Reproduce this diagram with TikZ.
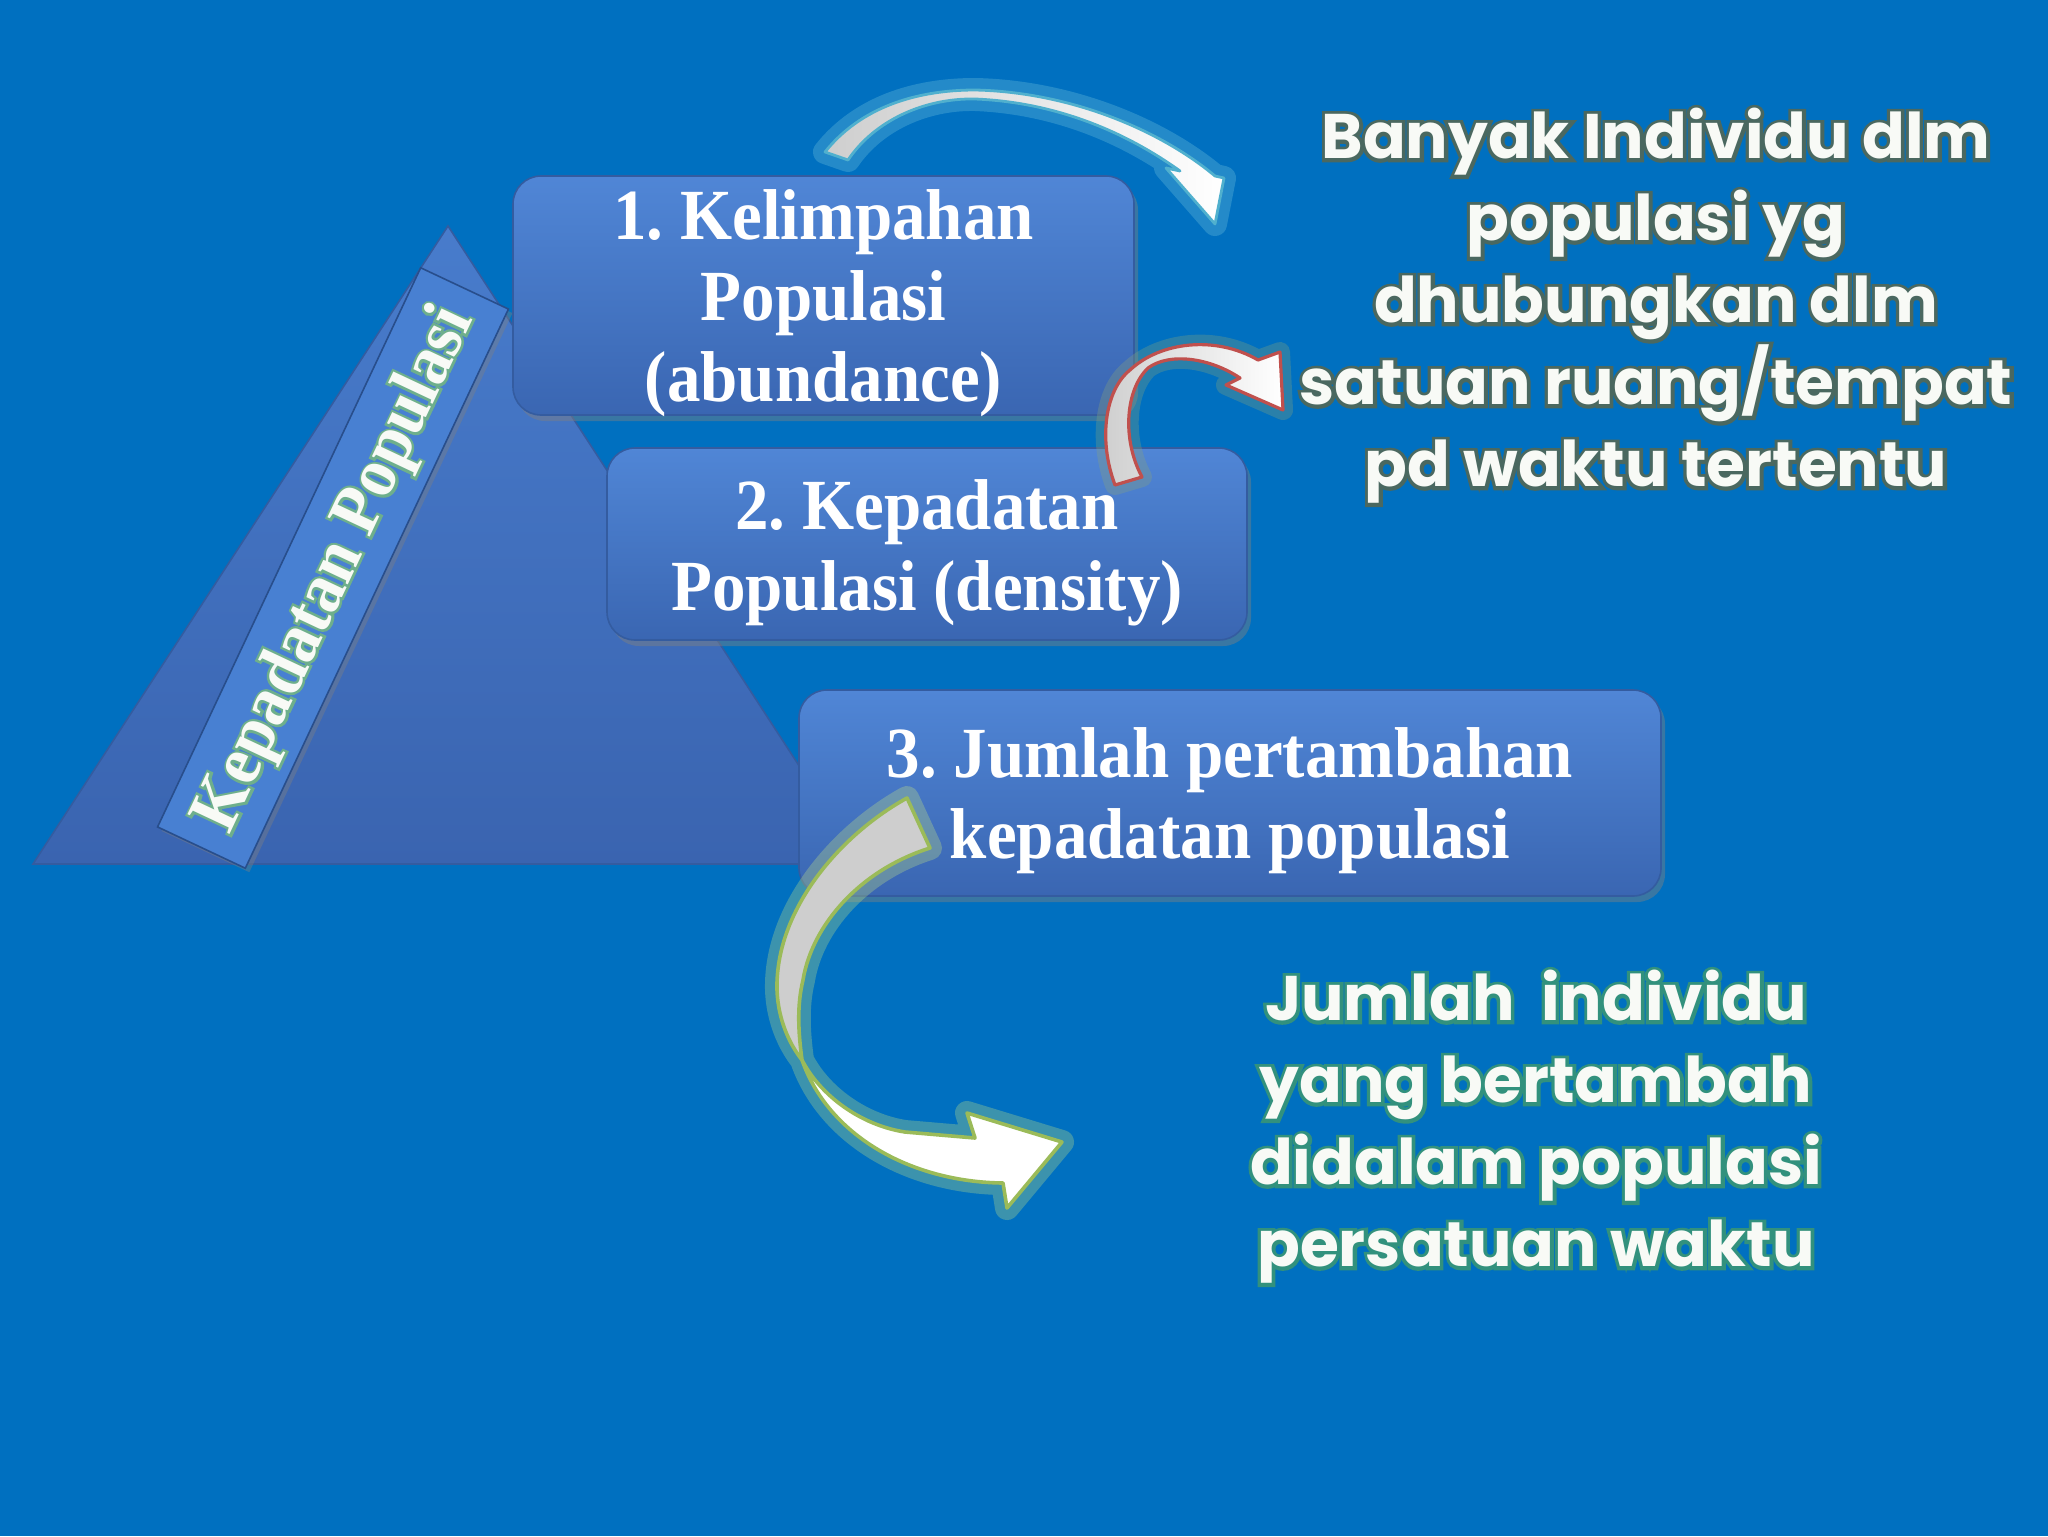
\documentclass[tikz,border=0pt]{standalone}
\usepackage{fontspec}
\usetikzlibrary{shadows}
\newfontfamily\boxfont[FakeStretch=0.93]{Liberation Serif}
\newfontfamily\boxglow[FakeStretch=0.93,BoldFeatures={FakeBold=7}]{Liberation Serif}
\newfontfamily\dispfont{Poppins}
\newfontfamily\dispglow[BoldFeatures={FakeBold=11}]{Poppins}
\frenchspacing
\definecolor{slidebg}{RGB}{0,112,192}
\definecolor{boxtop}{RGB}{80,134,214}
\definecolor{boxbot}{RGB}{58,102,178}
\definecolor{boxedge}{RGB}{52,92,160}
\definecolor{baredge}{RGB}{40,78,140}
\definecolor{tritop}{RGB}{72,124,204}
\definecolor{tribot}{RGB}{58,100,176}
\definecolor{barfill}{RGB}{72,128,210}
\definecolor{textwhite}{RGB}{248,250,246}
\definecolor{glowabu}{RGB}{74,104,96}
\definecolor{glowteal}{RGB}{50,145,125}
\definecolor{glowhijau}{RGB}{110,175,140}
\definecolor{arrowgray}{RGB}{206,206,206}
\definecolor{cyanline}{RGB}{80,176,206}
\definecolor{cyanglow}{RGB}{120,200,225}
\definecolor{redline}{RGB}{192,80,77}
\definecolor{redglow}{RGB}{140,165,120}
\definecolor{greenline}{RGB}{155,187,89}
\definecolor{greenglow}{RGB}{200,230,130}
\tikzset{
  kotak/.style={draw=boxedge, line width=0.8pt, rounded corners=14pt,
    top color=boxtop, bottom color=boxbot, inner sep=0pt,
    drop shadow={shadow xshift=2pt, shadow yshift=-3pt, opacity=0.45}},
  kotakteks/.style={text=white, align=center, inner sep=0pt,
    font=\boxfont\bfseries\fontsize{36}{40.5}\selectfont},
  ket/.style={text=textwhite, align=center,
    font=\dispfont\bfseries\fontsize{31.5}{41}\selectfont},
  ketglow/.style={text=#1, align=center,
    font=\dispglow\bfseries\fontsize{31.5}{41}\selectfont},
  sorot/.style={line width=#1, line join=round, opacity=0.3}
}
\begin{document}
\begin{tikzpicture}[x=0.5pt,y=0.5pt,yscale=-1,xscale=1]
\useasboundingbox (0,0) rectangle (2048,1536);
\fill[slidebg] (0,0) rectangle (2048,1536);
% piramida
\draw[boxedge, line width=0.8pt, top color=tritop, bottom color=tribot] (448,226) -- (863,864) -- (33,864) -- cycle;
\node[draw=baredge, line width=0.8pt, fill=barfill, rotate=64.8,
  minimum width=309pt, minimum height=48.5pt, inner sep=0pt,
  drop shadow={shadow xshift=2pt, shadow yshift=-2pt, opacity=0.4}] (sisi) at (333,568) {};
\node[rotate=64.8, text=glowhijau, font=\boxglow\bfseries\fontsize{35.5}{40}\selectfont] (sisiglow) at (336,570) {Kepadatan Populasi};
\node[rotate=64.8, text=textwhite, font=\boxfont\bfseries\fontsize{35.5}{40}\selectfont] (sisiteks) at (336,570) {Kepadatan Populasi};
% kotak
\node[kotak, minimum width=310.5pt, minimum height=119.5pt] (kelimpahan) at (823.5,295.5) {};
\node[kotakteks] (kelimpahanteks) at ([yshift=4pt]kelimpahan.center) {1. Kelimpahan\\Populasi\\(abundance)};
\node[kotak, minimum width=320pt, minimum height=96pt] (kepadatan) at (927,544) {};
\node[kotakteks] (kepadatanteks) at ([yshift=4.5pt]kepadatan.center) {2. Kepadatan\\Populasi (density)};
\node[kotak, minimum width=431pt, minimum height=103pt] (jumlah) at (1230,793) {};
\node[kotakteks] (jumlahteks) at ([yshift=4pt]jumlah.center) {3. Jumlah pertambahan\\kepadatan populasi};
% panah atas
\draw[cyanglow, sorot=12pt] (825,152) .. controls (860,108) and (915,90) .. (975,90) .. controls (1070,92) and (1160,130) .. (1215,176) -- (1224,178) -- (1215,224) -- (1166,168) -- (1180,171) .. controls (1120,128) and (1050,102) .. (975,99) .. controls (925,98) and (875,120) .. (848,160) -- cycle;
\draw[cyanline, line width=1.4pt, line join=round, left color=arrowgray, right color=white] (825,152) .. controls (860,108) and (915,90) .. (975,90) .. controls (1070,92) and (1160,130) .. (1215,176) -- (1224,178) -- (1215,224) -- (1166,168) -- (1180,171) .. controls (1120,128) and (1050,102) .. (975,99) .. controls (925,98) and (875,120) .. (848,160) -- cycle;
% panah merah
\draw[redglow, sorot=10pt] (1115,485) .. controls (1098,440) and (1105,390) .. (1130,370) .. controls (1160,342) and (1215,335) .. (1258,360) -- (1280,352) -- (1283,410) -- (1226,385) -- (1240,378) .. controls (1210,358) and (1170,352) .. (1148,368) .. controls (1125,390) and (1122,440) .. (1142,477) -- cycle;
\draw[redline, line width=1.6pt, line join=round, left color=arrowgray, right color=white] (1115,485) .. controls (1098,440) and (1105,390) .. (1130,370) .. controls (1160,342) and (1215,335) .. (1258,360) -- (1280,352) -- (1283,410) -- (1226,385) -- (1240,378) .. controls (1210,358) and (1170,352) .. (1148,368) .. controls (1125,390) and (1122,440) .. (1142,477) -- cycle;
% panah bawah
\draw[greenglow, sorot=12pt] (907,798) .. controls (840,835) and (775,910) .. (777,990) .. controls (778,1020) and (790,1045) .. (802,1060) .. controls (820,1095) and (860,1125) .. (905,1132) -- (975,1138) -- (967,1113) -- (1062,1142) -- (1007,1208) -- (1003,1183) .. controls (910,1182) and (828,1135) .. (802,1060) .. controls (798,1030) and (797,1005) .. (803,980) .. controls (812,925) and (860,870) .. (930,848) -- cycle;
\draw[greenline, line width=1.8pt, line join=round, fill=arrowgray] (907,798) .. controls (840,835) and (775,910) .. (777,990) .. controls (778,1020) and (790,1045) .. (802,1060) .. controls (798,1030) and (797,1005) .. (803,980) .. controls (812,925) and (860,870) .. (930,848) -- cycle;
\draw[greenline, line width=1.8pt, line join=round, fill=white] (802,1060) .. controls (820,1095) and (860,1125) .. (905,1132) -- (975,1138) -- (967,1113) -- (1062,1142) -- (1007,1208) -- (1003,1183) .. controls (910,1182) and (828,1135) .. (802,1060) -- cycle;
% keterangan
\node[ketglow=glowabu] (ketkelimpahanglow) at (1656,306) {Banyak Individu dlm\\populasi yg\\dhubungkan dlm\\satuan ruang/tempat\\pd waktu tertentu};
\node[ket] (ketkelimpahan) at (1656,306) {Banyak Individu dlm\\populasi yg\\dhubungkan dlm\\satuan ruang/tempat\\pd waktu tertentu};
\node[ketglow=glowteal] (ketjumlahglow) at (1536,1127) {Jumlah\ \ individu\\yang bertambah\\didalam populasi\\persatuan waktu};
\node[ket] (ketjumlah) at (1536,1127) {Jumlah\ \ individu\\yang bertambah\\didalam populasi\\persatuan waktu};
\end{tikzpicture}
\end{document}
